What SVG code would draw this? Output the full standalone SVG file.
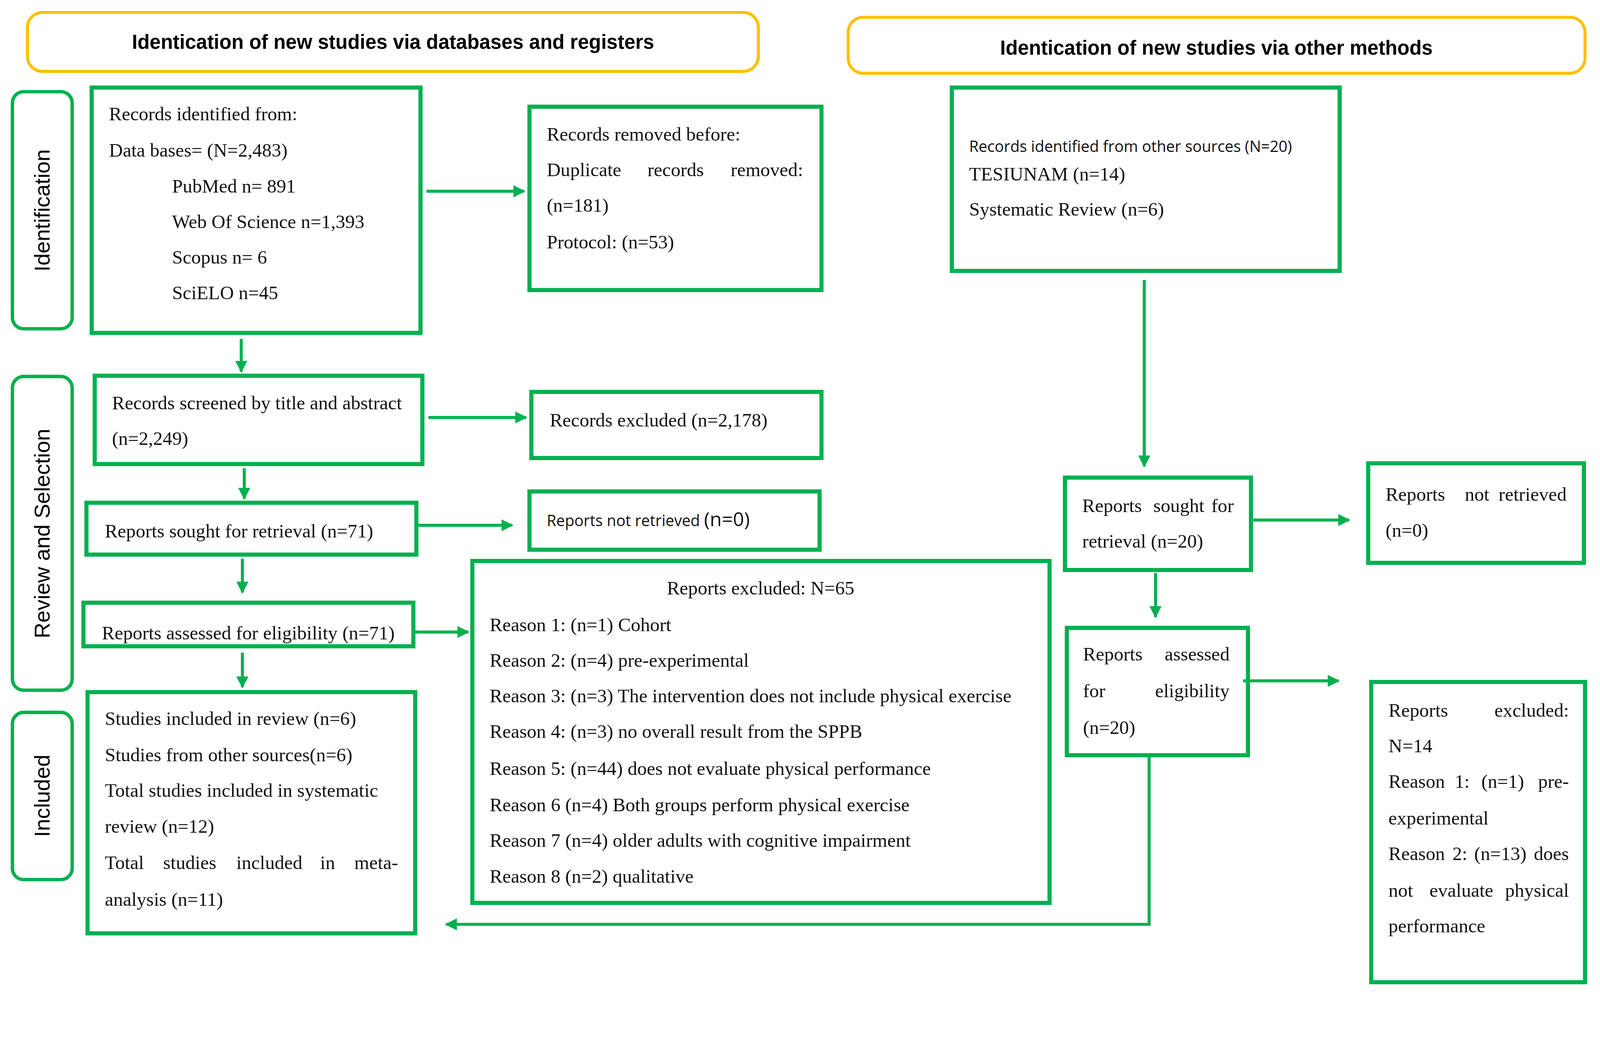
<svg xmlns="http://www.w3.org/2000/svg" width="4248" height="2655" viewBox="0 0 4248 2655">
<style>
.hdr{fill:#fff;stroke:#FFC000;stroke-width:8}
.side{fill:#fff;stroke:#00B050;stroke-width:9}
.box{fill:#fff;stroke:#00B050;stroke-width:11}
.ht{font-family:"Liberation Sans",Arial,sans-serif;font-weight:bold;font-size:53px;text-anchor:middle}
.st{font-family:"Liberation Sans",Arial,sans-serif;font-size:58px;text-anchor:middle}
.t{font-family:"Liberation Serif","Times New Roman",serif;font-size:51px;fill:#111}
.e{text-anchor:end}
.s{font-family:"Open Sans","Liberation Sans",sans-serif;font-size:41px;fill:#111}
.ln{stroke:#00B050;stroke-width:8;fill:none}
</style>
<defs>
<marker id="ah" viewBox="0 0 10 10" refX="9" refY="5" markerWidth="4" markerHeight="4" orient="auto" markerUnits="strokeWidth"><path d="M0,0 L10,5 L0,10 z" fill="#00B050"/></marker>
</defs>
<rect width="4248" height="2655" fill="#fff"/>
<g transform="scale(0.962)">
<g id="hdr1"><rect class="hdr" x="73" y="33" width="1945" height="157" rx="40"/><text class="ht" x="1046" y="130">Identication of new studies via databases and registers</text></g>
<g id="hdr2"><rect class="hdr" x="2257" y="46" width="1961" height="149" rx="40"/><text class="ht" x="3237" y="146">Identication of new studies via other methods</text></g>
<g id="side1"><rect class="side" x="33" y="244" width="159" height="631" rx="30"/><text class="st" transform="translate(132,560) rotate(-90)">Identification</text></g>
<g id="side2"><rect class="side" x="33" y="1002" width="159" height="835" rx="30"/><text class="st" transform="translate(132,1420) rotate(-90)">Review and Selection</text></g>
<g id="side3"><rect class="side" x="33" y="1896" width="159" height="445" rx="30"/><text class="st" transform="translate(132,2118) rotate(-90)">Included</text></g>

<g id="A"><rect class="box" x="244" y="233" width="875" height="653"/>
<text class="t" x="290" y="320">Records identified from:</text>
<text class="t" x="290" y="417">Data bases= (N=2,483)</text>
<text class="t" x="458" y="512">PubMed n= 891</text>
<text class="t" x="458" y="607">Web Of Science n=1,393</text>
<text class="t" x="458" y="702">Scopus n= 6</text>
<text class="t" x="458" y="796">SciELO n=45</text></g>
<g id="B"><rect class="box" x="1409" y="284" width="777" height="488"/>
<text class="t" x="1455" y="374">Records removed before:</text>
<text class="t" x="1455" y="469">Duplicate</text><text class="t" x="1723" y="469">records</text><text class="t e" x="2137" y="469">removed:</text>
<text class="t" x="1455" y="563">(n=181)</text>
<text class="t" x="1455" y="661">Protocol: (n=53)</text></g>
<g id="C"><rect class="box" x="252" y="1000" width="872" height="235"/>
<text class="t" x="298" y="1089">Records screened by title and abstract</text>
<text class="t" x="298" y="1184">(n=2,249)</text></g>
<g id="D"><rect class="box" x="1414" y="1043" width="772" height="176"/>
<text class="t" x="1463" y="1135">Records excluded (n=2,178)</text></g>
<g id="E"><rect class="box" x="230" y="1338" width="878" height="138"/>
<text class="t" x="279" y="1430">Reports sought for retrieval (n=71)</text></g>
<g id="F"><rect class="box" x="1409" y="1308" width="772" height="155"/>
<text class="s" x="1455" y="1400">Reports not retrieved <tspan font-size="52">(n=0)</tspan></text></g>
<g id="G"><rect class="box" x="222" y="1604" width="878" height="116"/>
<text class="t" x="271" y="1702">Reports assessed for eligibility (n=71)</text></g>
<g id="H"><rect class="box" x="1257" y="1493" width="1536" height="910"/>
<text class="t" x="2024" y="1582" text-anchor="middle">Reports excluded: N=65</text>
<text class="t" x="1303" y="1680">Reason 1: (n=1) Cohort</text>
<text class="t" x="1303" y="1774">Reason 2: (n=4) pre-experimental</text>
<text class="t" x="1303" y="1869">Reason 3: (n=3) The intervention does not include physical exercise</text>
<text class="t" x="1303" y="1964">Reason 4: (n=3) no overall result from the SPPB</text>
<text class="t" x="1303" y="2062">Reason 5: (n=44) does not evaluate physical performance</text>
<text class="t" x="1303" y="2159">Reason 6 (n=4) Both groups perform physical exercise</text>
<text class="t" x="1303" y="2254">Reason 7 (n=4) older adults with cognitive impairment</text>
<text class="t" x="1303" y="2349">Reason 8 (n=2) qualitative</text></g>
<g id="I"><rect class="box" x="233" y="1842" width="872" height="642"/>
<text class="t" x="279" y="1929">Studies included in review (n=6)</text>
<text class="t" x="279" y="2026">Studies from other sources(n=6)</text>
<text class="t" x="279" y="2121">Total studies included in systematic</text>
<text class="t" x="279" y="2216">review (n=12)</text>
<text class="t" x="279" y="2313">Total</text><text class="t" x="434" y="2313">studies</text><text class="t" x="629" y="2313">included</text><text class="t" x="852" y="2313">in</text><text class="t e" x="1059" y="2313">meta-</text>
<text class="t" x="279" y="2411">analysis (n=11)</text></g>
<g id="J"><rect class="box" x="2533" y="233" width="1032" height="488"/>
<text class="s" x="2579" y="404">Records identified from other sources (N=20)</text>
<text class="t" x="2579" y="480">TESIUNAM (n=14)</text>
<text class="t" x="2579" y="574">Systematic Review (n=6)</text></g>
<g id="K"><rect class="box" x="2834" y="1271" width="495" height="246"/>
<text class="t" x="2880" y="1363">Reports</text><text class="t" x="3069" y="1363">sought</text><text class="t e" x="3283" y="1363">for</text>
<text class="t" x="2880" y="1457">retrieval (n=20)</text></g>
<g id="L"><rect class="box" x="3641" y="1233" width="574" height="265"/>
<text class="t" x="3687" y="1333">Reports</text><text class="t" x="3898" y="1333">not</text><text class="t e" x="4169" y="1333">retrieved</text>
<text class="t" x="3687" y="1428">(n=0)</text></g>
<g id="M"><rect class="box" x="2839" y="1671" width="482" height="339"/>
<text class="t" x="2882" y="1758">Reports</text><text class="t e" x="3272" y="1758">assessed</text>
<text class="t" x="2882" y="1856">for</text><text class="t e" x="3272" y="1856">eligibility</text>
<text class="t" x="2882" y="1953">(n=20)</text></g>
<g id="N"><rect class="box" x="3649" y="1815" width="569" height="799"/>
<text class="t" x="3695" y="1907">Reports</text><text class="t e" x="4175" y="1907">excluded:</text>
<text class="t" x="3695" y="2002">N=14</text>
<text class="t" x="3695" y="2097">Reason</text><text class="t" x="3871" y="2097">1:</text><text class="t" x="3942" y="2097">(n=1)</text><text class="t e" x="4175" y="2097">pre-</text>
<text class="t" x="3695" y="2194">experimental</text>
<text class="t" x="3695" y="2289">Reason</text><text class="t" x="3865" y="2289">2:</text><text class="t" x="3923" y="2289">(n=13)</text><text class="t e" x="4175" y="2289">does</text>
<text class="t" x="3695" y="2387">not</text><text class="t" x="3804" y="2387">evaluate</text><text class="t e" x="4175" y="2387">physical</text>
<text class="t" x="3695" y="2481">performance</text></g>

<g id="connectors">
<line class="ln" x1="1135" y1="509" x2="1395" y2="509" marker-end="url(#ah)"/>
<line class="ln" x1="642" y1="902" x2="642" y2="989" marker-end="url(#ah)"/>
<line class="ln" x1="1140" y1="1111" x2="1400" y2="1111" marker-end="url(#ah)"/>
<line class="ln" x1="650" y1="1246" x2="650" y2="1327" marker-end="url(#ah)"/>
<line class="ln" x1="1113" y1="1398" x2="1363" y2="1398" marker-end="url(#ah)"/>
<line class="ln" x1="645" y1="1487" x2="645" y2="1577" marker-end="url(#ah)"/>
<line class="ln" x1="1105" y1="1682" x2="1246" y2="1682" marker-end="url(#ah)"/>
<line class="ln" x1="645" y1="1737" x2="645" y2="1829" marker-end="url(#ah)"/>
<line class="ln" x1="3045" y1="745" x2="3045" y2="1241" marker-end="url(#ah)"/>
<line class="ln" x1="3335" y1="1384" x2="3590" y2="1384" marker-end="url(#ah)"/>
<line class="ln" x1="3075" y1="1525" x2="3075" y2="1642" marker-end="url(#ah)"/>
<line class="ln" x1="3308" y1="1812" x2="3562" y2="1812" marker-end="url(#ah)"/>
<polyline class="ln" points="3058,2010 3058,2460 1187,2460" marker-end="url(#ah)"/>
</g>
</g>
</svg>
